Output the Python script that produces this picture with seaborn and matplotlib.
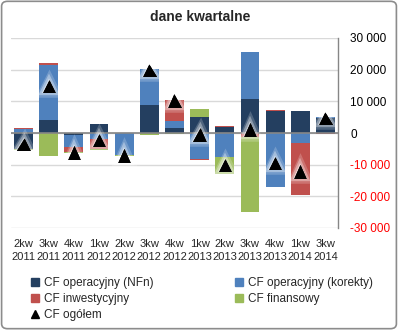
import numpy as np
import pandas as pd
import matplotlib
matplotlib.use("Agg")
import matplotlib.pyplot as plt
import matplotlib.patheffects as pe
from matplotlib.patches import FancyBboxPatch
from matplotlib.lines import Line2D
import seaborn as sns

categories = ["2kw\n2011", "3kw\n2011", "4kw\n2011", "1kw\n2012", "2kw\n2012", "3kw\n2012",
              "4kw\n2012", "1kw\n2013", "2kw\n2013", "3kw\n2013", "4kw\n2013", "1kw\n2014", "3kw\n2014"]
cf_nfn = [-5100, 4200, -750, 3000, 0, 8700, 1700, 5200, 1800, 10600, 6900, 7100, 4700]
cf_korekty = [1400, 17300, -3800, -1800, -6900, 11500, 2100, -8300, -7500, 15000, -17000, -3100, 200]
cf_inwest = [300, 500, -1400, -3200, 0, 0, 6500, -200, 500, -1400, 300, -16500, -400]
cf_finans = [-400, -7400, -500, -500, -500, -700, -400, 2500, -5300, -23400, 0, 0, 0]
cf_ogolem = [-3800, 14600, -6450, -2500, -7400, 19500, 9900, -800, -10500, 800, -9800, -12500, 4500]
series_names = ["CF operacyjny (NFn)", "CF operacyjny (korekty)", "CF inwestycyjny", "CF finansowy"]
total_name = "CF ogółem"
colors = ["#243F60", "#4F81BD", "#C0504D", "#9BBB59"]
yticks = [-30000, -20000, -10000, 0, 10000, 20000, 30000]
title = "dane kwartalne"

sns.set_theme(style="white")
plt.rcParams["font.family"] = ["Liberation Sans", "DejaVu Sans"]

fig = plt.figure(figsize=(3.98, 3.30), dpi=100)
ax = fig.add_axes([11/398, 1-228/330, (338-11)/398, (228-38)/330])

vals = np.array([cf_nfn, cf_korekty, cf_inwest, cf_finans], dtype=float)
pos = np.cumsum(np.clip(vals, 0, None), axis=0)
neg = np.cumsum(np.clip(vals, None, 0), axis=0)

for k in range(3, -1, -1):
    for stack in (pos, neg):
        df = pd.DataFrame({"cat": categories, "v": stack[k]})
        sns.barplot(data=df, x="cat", y="v", color=colors[k], saturation=1,
                    width=0.75, ax=ax, errorbar=None, linewidth=0, order=categories)

df_tot = pd.DataFrame({"cat": categories, "v": cf_ogolem})
sns.pointplot(data=df_tot, x="cat", y="v", linestyle="none", marker="^", color="black",
              markersize=6, errorbar=None, ax=ax, order=categories)
ax.lines[-1].set_path_effects([
    pe.withStroke(linewidth=9, foreground="white", alpha=0.2),
    pe.withStroke(linewidth=6, foreground="white", alpha=0.35),
    pe.withStroke(linewidth=3, foreground="white", alpha=0.5),
    pe.Normal()])
ax.lines[-1].set_zorder(5)

ax.set_ylim(-30000, 30000)
ax.set_xlim(-0.5, len(categories) - 0.5)
ax.set_yticks(yticks)
ax.yaxis.tick_right()
ax.set_yticklabels([f"{v:,}".replace(",", " ") for v in yticks], fontsize=8.5)
for lab, v in zip(ax.get_yticklabels(), yticks):
    lab.set_color("red" if v < 0 else "black")
ax.tick_params(axis="y", length=0, pad=9)
ax.tick_params(axis="x", length=0, pad=8, labelsize=8)
for lab in ax.get_xticklabels():
    lab.set_linespacing(1.4)
ax.set_xlabel("")
ax.set_ylabel("")
ax.grid(axis="y", color="#D9D9D9", linewidth=1)
ax.set_axisbelow(True)
ax.axhline(0, color="#868686", linewidth=1.2, zorder=3)
for s in ("left", "top", "bottom"):
    ax.spines[s].set_visible(False)
ax.spines["right"].set_color("#868686")
ax.spines["right"].set_linewidth(1)

fig.text(200/398, 1-17/330, title, ha="center", va="center", fontsize=10, fontweight="bold")

handles = [Line2D([0], [0], marker="s", linestyle="none", color=c, markersize=6) for c in colors]
handles.append(Line2D([0], [0], marker="^", linestyle="none", color="black", markersize=6))
labels = series_names + [total_name]
order = [0, 2, 4, 1, 3]
fig.legend([handles[i] for i in order], [labels[i] for i in order], loc="upper left",
           bbox_to_anchor=(30/398, 1-277/330), ncol=2,
           frameon=False, fontsize=8.5, handlelength=0.8, handletextpad=0.4,
           columnspacing=6.8, labelspacing=0.35, borderaxespad=0, borderpad=0)

border = FancyBboxPatch((0.004, 0.004), 0.992, 0.992, boxstyle="round,pad=0,rounding_size=0.015",
                        transform=fig.transFigure, fill=False, edgecolor="#8C8C8C", linewidth=1.2)
fig.patches.append(border)

fig.savefig("out.png", dpi=100)
